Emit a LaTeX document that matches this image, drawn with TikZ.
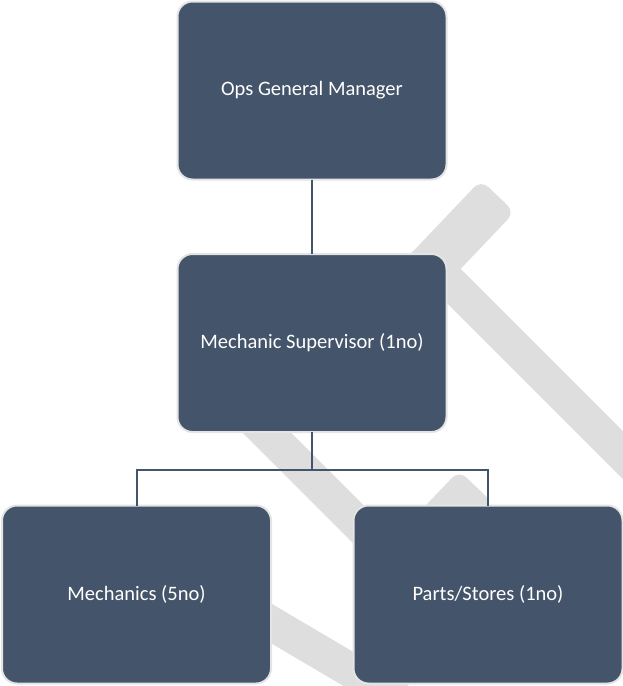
\documentclass[tikz,border=0pt]{standalone}
\usepackage{fontspec}
\setmainfont{Carlito}
\definecolor{boxfill}{HTML}{44546A}
\definecolor{boxedge}{HTML}{E4E4E4}
\definecolor{wmgray}{HTML}{DEDEDE}
\begin{document}
\begin{tikzpicture}[x=1pt,y=-1pt,
  orgbox/.style={rectangle, rounded corners=15pt, fill=boxfill, draw=boxedge,
    line width=2pt, minimum width=269pt, minimum height=178pt,
    inner sep=0pt, outer sep=0pt, text=white,
    font=\fontsize{20.5}{24}\selectfont},
  link/.style={draw=boxfill, line width=2pt},
  band/.style={fill=wmgray}]
\useasboundingbox (0,0) rectangle (623,686);

% light grey watermark strokes behind the chart
\begin{scope}
  \clip (0,0) rectangle (623,686);
  \fill[band, rounded corners=10pt] (481.0,180.0) -- (514.7,212.1) -- (389.8,343.3) -- (356.1,311.2) -- cycle;
  \fill[band] (442.3,250.5) -- (661.5,469.7) -- (637.6,493.6) -- (418.4,274.4) -- cycle;
  \fill[band] (212.0,353.6) -- (388.8,530.4) -- (364.6,554.6) -- (187.8,377.8) -- cycle;
  \fill[band, rounded corners=10pt] (459.0,470.5) -- (492.7,502.6) -- (399.1,601.0) -- (365.4,568.8) -- cycle;
  \fill[band] (158.7,537.1) -- (408.7,684.6) -- (391.3,714.2) -- (141.3,566.7) -- cycle;
\end{scope}

% boxes
\node[orgbox] (gm)    at (312,90.5)   {Ops General Manager};
\node[orgbox] (sup)   at (312,343)    {Mechanic Supervisor (1no)};
\node[orgbox] (mech)  at (136.5,594.5) {Mechanics (5no)};
\node[orgbox] (parts) at (488,594.5)  {Parts/Stores (1no)};

% connectors
\coordinate (bus) at (312,470);
\draw[link] (gm.south) -- (sup.north);
\draw[link] (sup.south) -- (bus);
\draw[link] (mech.north) |- (bus) -| (parts.north);
\end{tikzpicture}
\end{document}
